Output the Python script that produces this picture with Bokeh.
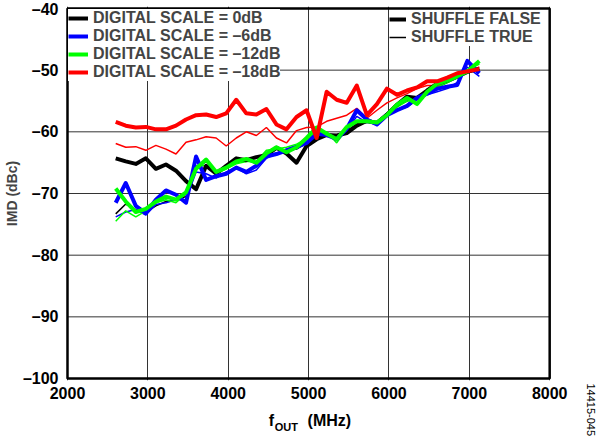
import numpy as np
from bokeh.plotting import figure
from bokeh.models import FixedTicker, Legend, LegendItem, Range1d, LinearAxis
from bokeh.embed import file_html
from bokeh.resources import INLINE

freq = [2600, 2725, 2850, 2975, 3100, 3225, 3350, 3475, 3600, 3725, 3850, 3975,
        4100, 4225, 4350, 4475, 4600, 4725, 4850, 4975, 5100, 5225, 5350, 5475,
        5600, 5725, 5850, 5975, 6100, 6225, 6350, 6475, 6600, 6725, 6850, 6975, 7125]

black_false = [-64.3, -64.8, -65.2, -64.3, -66.0, -65.3, -66.3, -68.0, -69.3, -65.5, -66.8, -65.5,
               -64.3, -64.6, -64.1, -63.8, -62.6, -63.5, -65.0, -62.3, -61.2, -60.5, -60.6, -60.2,
               -59.0, -58.2, -58.6, -57.2, -55.6, -54.3, -54.5, -53.3, -52.2, -51.6, -50.8, -50.2, -49.8]
blue_false = [-71.5, -68.3, -72.0, -73.2, -71.0, -69.5, -70.2, -71.5, -64.0, -67.8, -67.2, -66.8,
              -65.8, -66.5, -65.5, -64.0, -63.6, -63.0, -62.5, -61.8, -60.3, -60.5, -61.2, -59.5,
              -56.5, -58.0, -58.8, -57.3, -56.5, -55.8, -54.5, -53.8, -53.0, -52.7, -52.4, -48.5, -50.5]
green_false = [-69.2, -71.3, -73.0, -72.5, -71.3, -70.5, -71.0, -69.8, -66.0, -64.5, -66.5, -65.8,
               -64.8, -64.4, -65.0, -63.5, -62.5, -63.3, -62.5, -61.0, -59.3, -60.3, -61.2, -59.2,
               -58.3, -58.3, -58.5, -57.3, -55.6, -54.5, -55.5, -53.5, -52.2, -51.6, -51.0, -50.2, -48.5]
red_false = [-58.4, -59.0, -59.3, -59.2, -59.6, -59.6, -59.0, -58.0, -57.3, -57.2, -57.6, -57.0,
             -54.8, -57.0, -57.2, -56.3, -58.8, -59.6, -57.6, -56.5, -61.0, -53.5, -54.8, -55.3,
             -52.5, -57.3, -55.5, -53.0, -54.0, -53.3, -52.8, -51.8, -51.8, -51.2, -50.5, -50.2, -49.8]

black_true = [-73.3, -71.7, -72.6, -73.0, -72.0, -71.3, -71.0, -70.5, -66.0, -64.8, -66.5, -65.5,
              -65.0, -64.5, -65.2, -63.5, -62.8, -63.0, -62.8, -61.8, -60.8, -60.5, -60.8, -59.8,
              -58.8, -58.5, -58.3, -57.0, -55.8, -55.0, -54.3, -53.5, -52.8, -52.0, -51.3, -50.5, -49.8]
blue_true = [-73.8, -73.0, -72.6, -73.5, -71.8, -71.5, -71.0, -71.0, -66.5, -66.8, -67.5, -66.5,
             -65.8, -66.8, -66.2, -64.3, -63.5, -62.8, -62.2, -61.5, -61.0, -60.2, -60.8, -59.8,
             -57.5, -58.5, -58.6, -57.0, -56.5, -56.0, -54.8, -54.0, -53.5, -53.0, -52.0, -49.5, -51.0]
green_true = [-74.5, -72.8, -73.8, -72.8, -71.5, -71.0, -71.5, -70.0, -65.5, -65.5, -66.8, -66.0,
              -65.2, -64.8, -64.8, -63.0, -62.8, -62.5, -62.0, -61.2, -60.0, -60.0, -61.8, -59.5,
              -58.5, -58.0, -58.8, -57.5, -56.0, -55.0, -54.8, -53.8, -52.8, -52.0, -51.2, -50.0, -49.0]
red_true = [-61.9, -62.5, -62.4, -63.0, -62.2, -62.8, -63.6, -61.7, -61.3, -60.8, -61.0, -62.3,
            -61.0, -60.0, -60.6, -59.3, -61.0, -61.8, -59.8, -59.3, -59.2, -58.3, -57.8, -57.3,
            -56.2, -57.8, -56.5, -55.3, -54.5, -53.8, -53.0, -52.5, -52.5, -51.5, -51.0, -50.3, -49.5]

scale_labels = ["DIGITAL SCALE = 0dB", "DIGITAL SCALE = \u20136dB",
                "DIGITAL SCALE = \u201312dB", "DIGITAL SCALE = \u201318dB"]
shuffle_labels = ["SHUFFLE FALSE", "SHUFFLE TRUE"]
x_ticks = [2000, 3000, 4000, 5000, 6000, 7000, 8000]
y_ticks = [-100, -90, -80, -70, -60, -50, -40]
x_title = ["f", "OUT", "(MHz)"]
fig_id = "14415-045"

colors = ["#000000", "#0000FF", "#00FF00", "#FF0000"]
FONT = "Liberation Sans"
W, H = 599, 439

# pixel geometry of the data box (canvas px)
BOX_L, BOX_R, BOX_T, BOX_B = 65, 549, 8, 382
PAD = 2            # frame extends 2px around the data box
EXTRA_R = 47       # frame extends further right for the figure id
pxm = (BOX_R - BOX_L) / (x_ticks[-1] - x_ticks[0])
pyd = (BOX_B - BOX_T) / (y_ticks[-1] - y_ticks[0])
def xdat(px):
    return x_ticks[0] + (px - BOX_L) / pxm

x_range = Range1d(x_ticks[0] - PAD / pxm, x_ticks[-1] + EXTRA_R / pxm)
y_range = Range1d(y_ticks[0] - PAD / pyd, y_ticks[-1] + PAD / pyd)

p = figure(width=W, height=H, output_backend="svg", toolbar_location=None,
           x_range=x_range, y_range=y_range,
           min_border_left=BOX_L - PAD, min_border_right=W - (BOX_R + EXTRA_R),
           min_border_top=BOX_T - PAD, min_border_bottom=H - (BOX_B + PAD))
p.background_fill_color = "white"
p.border_fill_color = "white"
p.outline_line_color = None

p.xaxis.ticker = FixedTicker(ticks=x_ticks)
p.yaxis.ticker = FixedTicker(ticks=y_ticks)
p.yaxis.major_label_overrides = {t: ("\u2013" + str(abs(t))) for t in y_ticks}

def style_axis(ax, size="16px", fstyle="bold"):
    ax.axis_line_color = None
    ax.major_tick_line_color = None
    ax.minor_tick_line_color = None
    ax.major_tick_out = 0
    ax.major_tick_in = 0
    ax.minor_tick_out = 0
    ax.minor_tick_in = 0
    ax.major_label_text_font = FONT
    ax.major_label_text_font_style = fstyle
    ax.major_label_text_font_size = size
    ax.major_label_text_color = "black"

for ax in (p.xaxis[0], p.yaxis[0]):
    style_axis(ax)
p.xaxis.major_label_standoff = 6
p.yaxis.major_label_standoff = 7
p.yaxis.axis_label = "IMD (dBc)"
p.yaxis.axis_label_text_font = FONT
p.yaxis.axis_label_text_font_style = "bold"
p.yaxis.axis_label_text_font_size = "14px"
p.yaxis.axis_label_standoff = 0

# x-axis title "f_OUT (MHz)" as extra label rows below the tick labels
f_x, out_x, mhz_x = round(xdat(269.7)), round(xdat(284.6)), round(xdat(327.8))
axA = LinearAxis(ticker=FixedTicker(ticks=[f_x, mhz_x]),
                 major_label_overrides={f_x: x_title[0], mhz_x: x_title[2]})
style_axis(axA, "16px")
axA.major_label_standoff = 10
p.add_layout(axA, "below")
axB = LinearAxis(ticker=FixedTicker(ticks=[out_x]), major_label_overrides={out_x: x_title[1]})
style_axis(axB, "11px")
axB.major_label_standoff = -11
p.add_layout(axB, "below")
id_x = round(xdat(590))
axC = LinearAxis(ticker=FixedTicker(ticks=[id_x]), major_label_overrides={id_x: fig_id},
                 major_label_orientation="vertical")
style_axis(axC, "11px", "normal")
axC.major_label_standoff = -52
p.add_layout(axC, "below")

# grid
p.xgrid.ticker = FixedTicker(ticks=x_ticks)
p.xgrid.grid_line_color = "#333333"
p.xgrid.grid_line_width = 1
p.ygrid.visible = False
p.segment(x0=[x_ticks[0]] * len(y_ticks), x1=[x_ticks[-1]] * len(y_ticks),
          y0=y_ticks, y1=y_ticks, line_color="#333333", line_width=1)

thin = [black_true, blue_true, green_true, red_true]
thick = [black_false, blue_false, green_false, red_false]
thin_r = []
thick_r = []
for ys, c in zip(thin, colors):
    thin_r.append(p.line(freq, ys, line_color=c, line_width=1.5))
for ys, c in zip(thick, colors):
    thick_r.append(p.line(freq, ys, line_color=c, line_width=4, line_join="round"))

# plot box border
p.quad(left=[x_ticks[0]], right=[x_ticks[-1]], bottom=[y_ticks[0]], top=[y_ticks[-1]],
       fill_color=None, line_color="black", line_width=2.5)

def mk_legend(items, loc, margin, gw):
    return Legend(items=items, location=loc, margin=margin, padding=3, spacing=0,
                  glyph_width=gw, glyph_height=16, label_height=16, label_standoff=5,
                  label_text_font=FONT, label_text_font_style="bold",
                  label_text_font_size="16px", border_line_color=None,
                  background_fill_color="white", background_fill_alpha=1.0)

leg1 = mk_legend([LegendItem(label=l, renderers=[r]) for l, r in zip(scale_labels, thick_r)],
                 "top_left", 3, 20)
# legend 2: bottom-left corner given in px from the frame's bottom-left
leg2 = mk_legend([LegendItem(label=shuffle_labels[0], renderers=[thick_r[0]]),
                  LegendItem(label=shuffle_labels[1], renderers=[thin_r[0]])],
                 (387 - (BOX_L - PAD), (BOX_B + PAD) - 50), 0, 17)
p.add_layout(leg1)
p.add_layout(leg2)

open("out.html", "w").write(file_html(p, INLINE))
